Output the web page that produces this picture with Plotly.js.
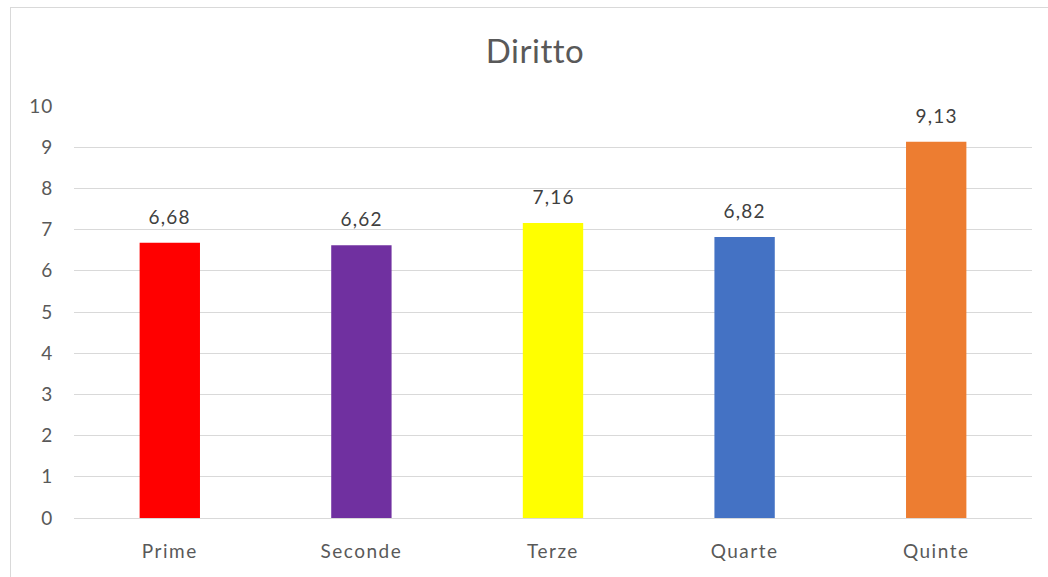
<!DOCTYPE html>
<html><head><meta charset="utf-8">
<script src="https://cdn.plot.ly/plotly-3.0.1.min.js"></script>
<style>
html,body{margin:0;padding:0;background:#fff;overflow:hidden;}
#frame{position:absolute;left:10px;top:7px;width:1200px;height:800px;border:1px solid #d9d9d9;pointer-events:none;z-index:5;}
#chart{position:absolute;left:0;top:0;width:1048px;height:577px;}
#chart .xtick text{letter-spacing:1.5px;}
#chart .ytick text{letter-spacing:0.8px;}
#chart .annotation-text{letter-spacing:1.2px;}
#chart .gtitle{letter-spacing:0.5px;}
</style></head>
<body>
<div id="chart"></div>
<div id="frame"></div>
<script>
var categories = ["Prime", "Seconde", "Terze", "Quarte", "Quinte"];
var values = [6.68, 6.62, 7.16, 6.82, 9.13];
var barColors = ["#ff0000", "#7030a0", "#ffff00", "#4472c4", "#ed7d31"];
var yTicks = [0,1,2,3,4,5,6,7,8,9,10];

var fontFam = "Lato, 'Open Sans', sans-serif";
var trace = {
  type: "bar", x: categories, y: values,
  marker: {color: barColors},
  hoverinfo: "none"
};
var annotations = categories.map(function(c, i){
  return {x: c, y: values[i], xref: "x", yref: "y", text: values[i].toFixed(2).replace(".", ","),
    showarrow: false, yanchor: "bottom", yshift: 13,
    font: {family: fontFam, size: 19, color: "#404040"}};
});
var layout = {
  width: 1048, height: 577,
  margin: {l: 74, r: 16, t: 106, b: 59},
  paper_bgcolor: "rgba(0,0,0,0)", plot_bgcolor: "#fff",
  title: {text: "Diritto", x: 0.5105, xref: "container", xanchor: "center", y: 0.91, yref: "container", yanchor: "middle",
    font: {family: fontFam, size: 33, color: "#595959"}},
  bargap: 0.685,
  showlegend: false,
  xaxis: {type: "category", showgrid: false, showline: false, zeroline: false, ticks: "",
    tickfont: {family: fontFam, size: 19, color: "#595959"}, ticklabelstandoff: 20, fixedrange: true},
  yaxis: {range: [0, 10], tickvals: yTicks, showgrid: true, gridcolor: "#d9d9d9", gridwidth: 1,
    zeroline: true, zerolinecolor: "#d9d9d9", zerolinewidth: 1, ticks: "",
    tickfont: {family: fontFam, size: 19, color: "#595959"}, ticklabelstandoff: 20, fixedrange: true},
  annotations: annotations
};
Plotly.newPlot("chart", [trace], layout, {displayModeBar: false, staticPlot: true});
</script>
</body></html>
